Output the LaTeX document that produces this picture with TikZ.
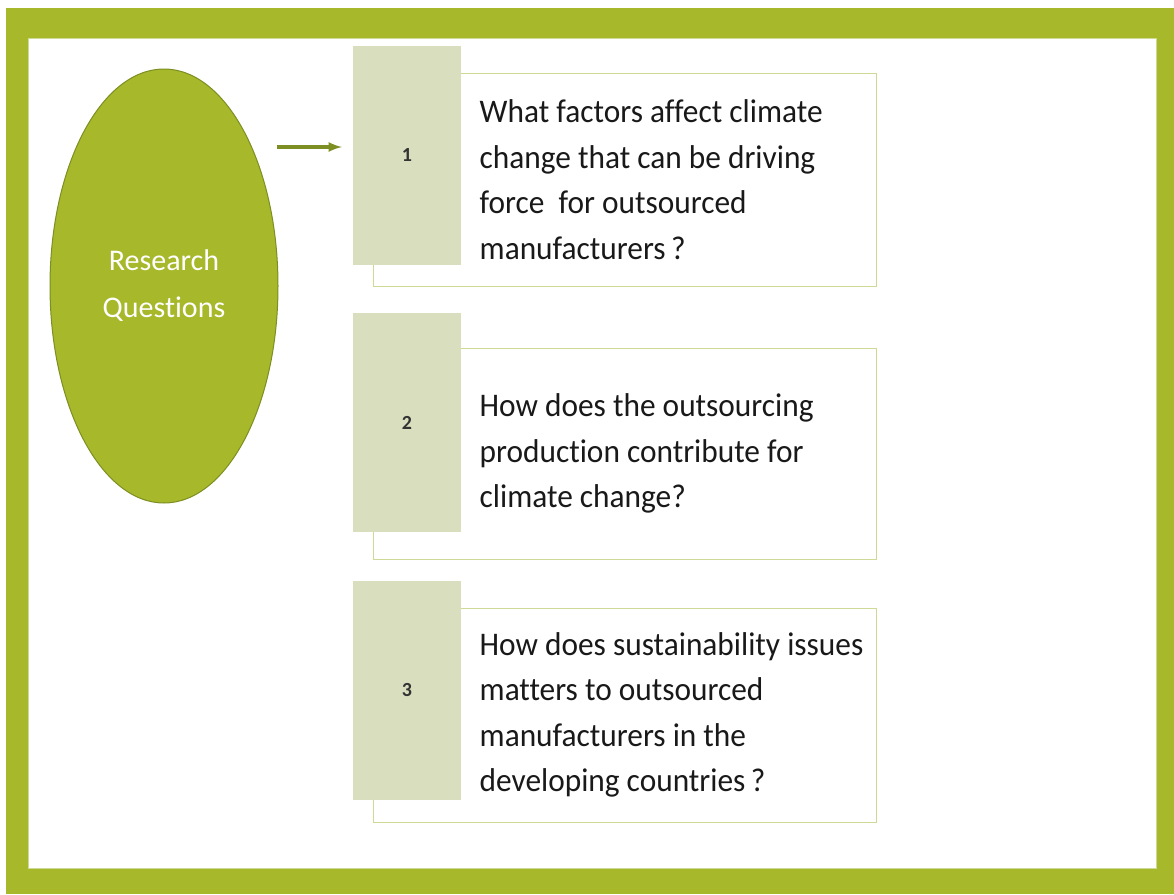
\documentclass[tikz,border=0pt]{standalone}
\usepackage{fontspec}
\setmainfont{Carlito}[Ligatures = NoCommon]
\newfontfamily\qfont{Carlito}[FakeStretch = 0.95, Ligatures = NoCommon]
\usetikzlibrary{shapes.geometric,positioning}

\definecolor{olive}{HTML}{A7B82A}
\definecolor{oliveDark}{HTML}{7D8E22}
\definecolor{paleBox}{HTML}{D9DFBE}
\definecolor{paleLine}{HTML}{CCDA96}

\tikzset{
	rq/.style = {ellipse, draw = oliveDark, fill = olive, line width = 1pt, inner sep = 0pt,
		minimum width = 228pt, minimum height = 434pt, text = white, align = center,
		font = \fontsize{30}{47}\selectfont},
	numbox/.style = {rectangle, fill = paleBox, minimum width = 108pt, minimum height = 219pt,
		inner sep = 0pt, font = \fontsize{20}{24}\selectfont\bfseries, text = black!80},
	qbox/.style = {rectangle, draw = paleLine, line width = 1pt, fill = white,
		minimum width = 503pt, inner sep = 0pt},
	qtext/.style = {align = left, inner sep = 0pt, text = black!90,
		font = \qfont\fontsize{33}{45.5}\selectfont},
	qarrow/.style = {-latex, draw = oliveDark, line width = 3.5pt, shorten >= 11pt}
}

\begin{document}
\begin{tikzpicture}[x=1pt, y=-1pt]
	\useasboundingbox (0,0) rectangle (1174,894);
	% frame
	\fill[olive] (6,8) rectangle (1174,894);
	\draw[fill = white, draw = paleLine, line width = 1pt] (28,38) rectangle (1156,868);

	\node (rq) at (164,286)	[rq]	{Research\\Questions};

	% question boxes
	\node (q1) at (624.5,179.5)	[qbox, minimum height = 213pt]	{};
	\node (q2) at (624.5,453.5)	[qbox, minimum height = 211pt]	{};
	\node (q3) at (624.5,715)	[qbox, minimum height = 214pt]	{};

	\node (n1) at (407,155.5)	[numbox]	{1};
	\node (n2) at (407,422.5)	[numbox]	{2};
	\node (n3) at (407,690)	[numbox]	{3};

	\node (t1) [qtext, right = 107pt of q1.west]	{What factors affect climate\\change that can be driving\\force\ \ for outsourced\\manufacturers\,?};
	\node (t2) [qtext, right = 107pt of q2.west]	{How does the outsourcing\\production contribute for\\climate change?};
	\node (t3) [qtext, right = 107pt of q3.west]	{How does sustainability issues\\matters to outsourced\\manufacturers in the\\developing countries\,?};

	\coordinate (a1) at (277,147);
	\draw[qarrow] (a1) -- (n1.west |- a1);
\end{tikzpicture}
\end{document}
